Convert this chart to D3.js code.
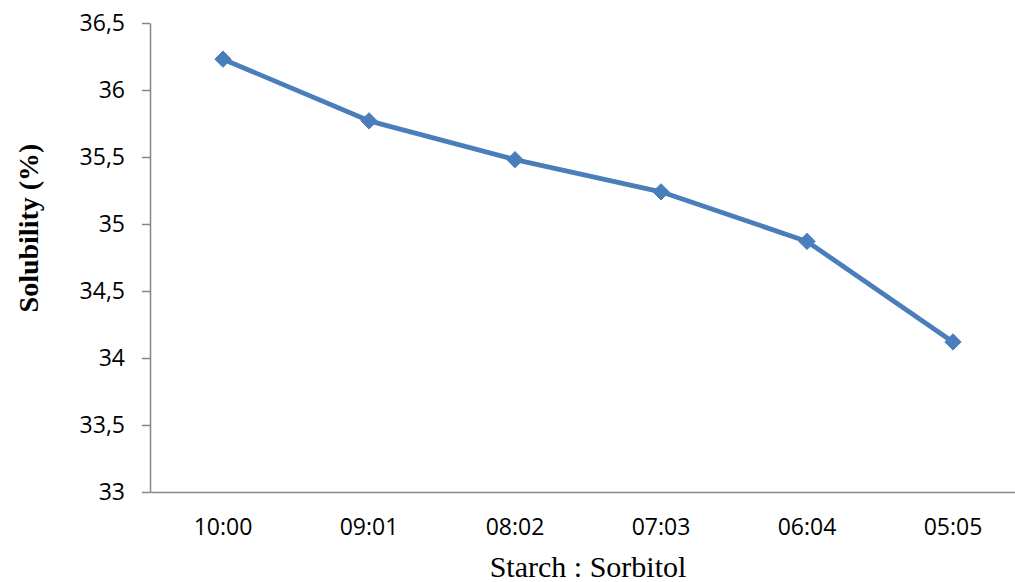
<!DOCTYPE html>
<html>
<head>
<meta charset="utf-8">
<script src="https://cdn.jsdelivr.net/npm/d3@7"></script>
<style>
  html, body { margin: 0; padding: 0; background: #fff; }
  svg { display: block; }
</style>
</head>
<body>
<svg id="chart" width="1015" height="582"></svg>
<script>
// Starch : Sorbitol ratio vs film solubility
const ratios = ["10:00", "09:01", "08:02", "07:03", "06:04", "05:05"];
const solubility = [36.23, 35.77, 35.48, 35.24, 34.87, 34.12];
const yTicks = [33, 33.5, 34, 34.5, 35, 35.5, 36, 36.5];

(function () {
  const svg = d3.select("#chart");
  const plotLeft = 150, plotTop = 23, plotBottom = 492, step = 146;
  const plotRight = plotLeft + step * ratios.length;

  const x = d3.scaleBand().domain(ratios).range([plotLeft, plotRight]).paddingInner(0).paddingOuter(0);
  const y = d3.scaleLinear().domain([33, 36.5]).range([plotBottom, plotTop]);

  const fmt = d => String(d).replace(".", ",");

  // Y axis
  const yAxis = svg.append("g")
    .attr("transform", `translate(${plotLeft},0)`)
    .call(d3.axisLeft(y).tickValues(yTicks).tickFormat(fmt).tickSize(8).tickSizeOuter(0).tickPadding(17));
  yAxis.select(".domain").attr("stroke", "#868686").attr("stroke-width", 1.5);
  yAxis.selectAll(".tick line").attr("stroke", "#868686").attr("stroke-width", 1.5);
  yAxis.selectAll(".tick text")
    .attr("font-family", "'Open Sans', 'Liberation Sans', sans-serif")
    .attr("font-size", 23).attr("fill", "#000");

  // X axis
  const xAxis = svg.append("g")
    .attr("transform", `translate(0,${plotBottom})`)
    .call(d3.axisBottom(x).tickSize(0).tickSizeOuter(0).tickPadding(27));
  xAxis.select(".domain").attr("stroke", "#868686").attr("stroke-width", 1.5);
  xAxis.selectAll(".tick text")
    .attr("font-family", "'Open Sans', 'Liberation Sans', sans-serif")
    .attr("font-size", 23).attr("fill", "#000");

  // Line
  const cx = d => x(d) + x.bandwidth() / 2;
  const line = d3.line().x((d, i) => cx(ratios[i])).y(d => y(d));
  svg.append("path")
    .datum(solubility)
    .attr("d", line)
    .attr("fill", "none")
    .attr("stroke", "#4A7EBB")
    .attr("stroke-width", 4.8)
    .attr("stroke-linejoin", "round");

  // Diamond markers
  svg.selectAll(".marker")
    .data(solubility)
    .enter().append("path")
    .attr("class", "marker")
    .attr("d", d3.symbol().type(d3.symbolDiamond2).size(170))
    .attr("transform", (d, i) => `translate(${cx(ratios[i])},${y(d)})`)
    .attr("fill", "#4A7EBB")
    .attr("stroke", "#4A7EBB")
    .attr("stroke-width", 1);

  // Axis titles
  svg.append("text")
    .attr("x", 588).attr("y", 577)
    .attr("text-anchor", "middle")
    .attr("font-family", "'Liberation Serif', 'Times New Roman', serif")
    .attr("font-size", 30)
    .text("Starch : Sorbitol");

  svg.append("text")
    .attr("transform", "translate(38,228) rotate(-90)")
    .attr("text-anchor", "middle")
    .attr("font-family", "'Liberation Serif', 'Times New Roman', serif")
    .attr("font-weight", "bold")
    .attr("font-size", 28)
    .text("Solubility (%)");
})();
</script>
</body>
</html>
